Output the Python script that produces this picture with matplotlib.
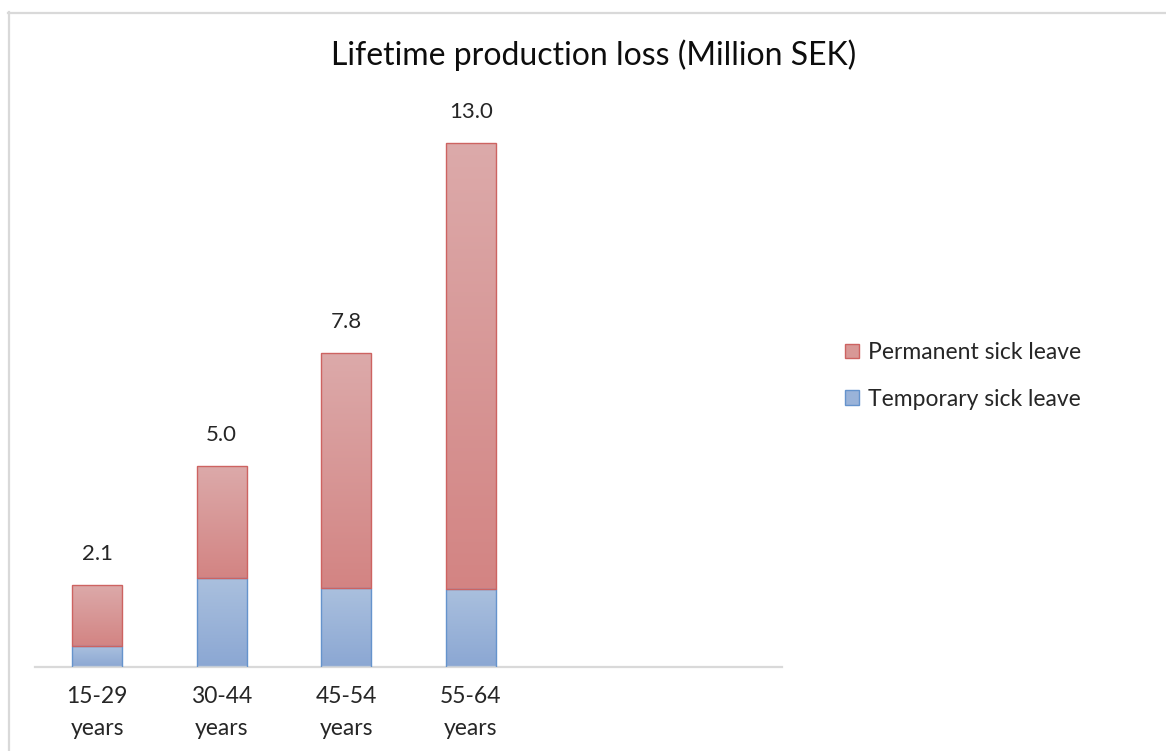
import numpy as np
import matplotlib
matplotlib.use("Agg")
import matplotlib.pyplot as plt
from matplotlib.lines import Line2D
from matplotlib.patches import Patch
from matplotlib.colors import LinearSegmentedColormap

plt.rcParams['font.family'] = ['Lato', 'DejaVu Sans']

categories = ["15-29\nyears", "30-44\nyears", "45-54\nyears", "55-64\nyears", "", ""]
temporary = [0.52, 2.21, 1.96, 1.94]
permanent = [1.52, 2.79, 5.84, 11.06]
title = "Lifetime production loss (Million SEK)"
series_names = ["Temporary sick leave", "Permanent sick leave"]
total_labels = ["2.1", "5.0", "7.8", "13.0"]

W, H = 1166, 751
fig = plt.figure(figsize=(W / 100, H / 100), dpi=100)

# frame (top and left edges visible)
fig.add_artist(Line2D([8.5 / W, 8.5 / W], [0, 1 - 12 / H], transform=fig.transFigure,
                      color="#d9d9d9", lw=1.6))
fig.add_artist(Line2D([8 / W, 1], [1 - 12.5 / H, 1 - 12.5 / H], transform=fig.transFigure,
                      color="#d9d9d9", lw=1.6))

px_per_unit = 40.3
ymax = 14.0
ax_left, ax_right, ax_bottom = 35 / W, 782 / W, 1 - 667 / H
ax_h = ymax * px_per_unit / H
ax = fig.add_axes([ax_left, ax_bottom, ax_right - ax_left, ax_h])
ax.set_xlim(-0.5, len(categories) - 0.5)
ax.set_ylim(0, ymax)

x = np.arange(len(temporary))
width = 0.40

blue_cmap = LinearSegmentedColormap.from_list("b", ["#8ba7d3", "#aac0de"])
red_cmap = LinearSegmentedColormap.from_list("r", ["#d38483", "#dcaaaa"])

bars_t = ax.bar(x, temporary, width, color="none", edgecolor="#6593cc", lw=1.0,
                label=series_names[0], zorder=3)
bars_p = ax.bar(x, permanent, width, bottom=temporary, color="none", edgecolor="#cd6361",
                lw=1.0, label=series_names[1], zorder=3)

grad = np.linspace(0, 1, 256).reshape(-1, 1)
for bars, cmap in ((bars_t, blue_cmap), (bars_p, red_cmap)):
    for b in bars:
        x0, y0 = b.get_x(), b.get_y()
        w, h = b.get_width(), b.get_height()
        im = ax.imshow(grad, cmap=cmap, origin="lower", aspect="auto",
                       extent=[x0, x0 + w, y0, y0 + h], zorder=2)
        im.set_clip_path(b)

totals = [t + p for t, p in zip(temporary, permanent)]
for xi, tot, lab in zip(x, totals, total_labels):
    ax.annotate(lab, (xi, tot), xytext=(0, 31 * 0.72), textcoords="offset points",
                ha="center", va="center", fontsize=16, color="#262626")

for s in ("top", "right", "left"):
    ax.spines[s].set_visible(False)
ax.spines["bottom"].set_color("#d9d9d9")
ax.spines["bottom"].set_linewidth(1.6)
ax.set_yticks([])
ax.set_xticks(np.arange(len(categories)))
ax.set_xticklabels(categories, fontsize=16.5, color="#262626", linespacing=1.6)
ax.tick_params(axis="x", length=0, pad=14)

fig.text(594 / W, 1 - 55 / H, title, ha="center", va="center", fontsize=23, color="#0d0d0d")

handles = [Patch(facecolor="#d89896", edgecolor="#cd6361", lw=1.0),
           Patch(facecolor="#9ab3d9", edgecolor="#6593cc", lw=1.0)]
fig.legend(handles, [series_names[1], series_names[0]], loc="upper left",
           bbox_to_anchor=(845 / W, 1 - 342 / H), frameon=False, fontsize=16.5,
           borderpad=0, borderaxespad=0,
           handlelength=0.62, handleheight=0.62, handletextpad=0.38, labelspacing=1.12,
           labelcolor="#262626")

fig.savefig("out.png", dpi=100, facecolor="white")
